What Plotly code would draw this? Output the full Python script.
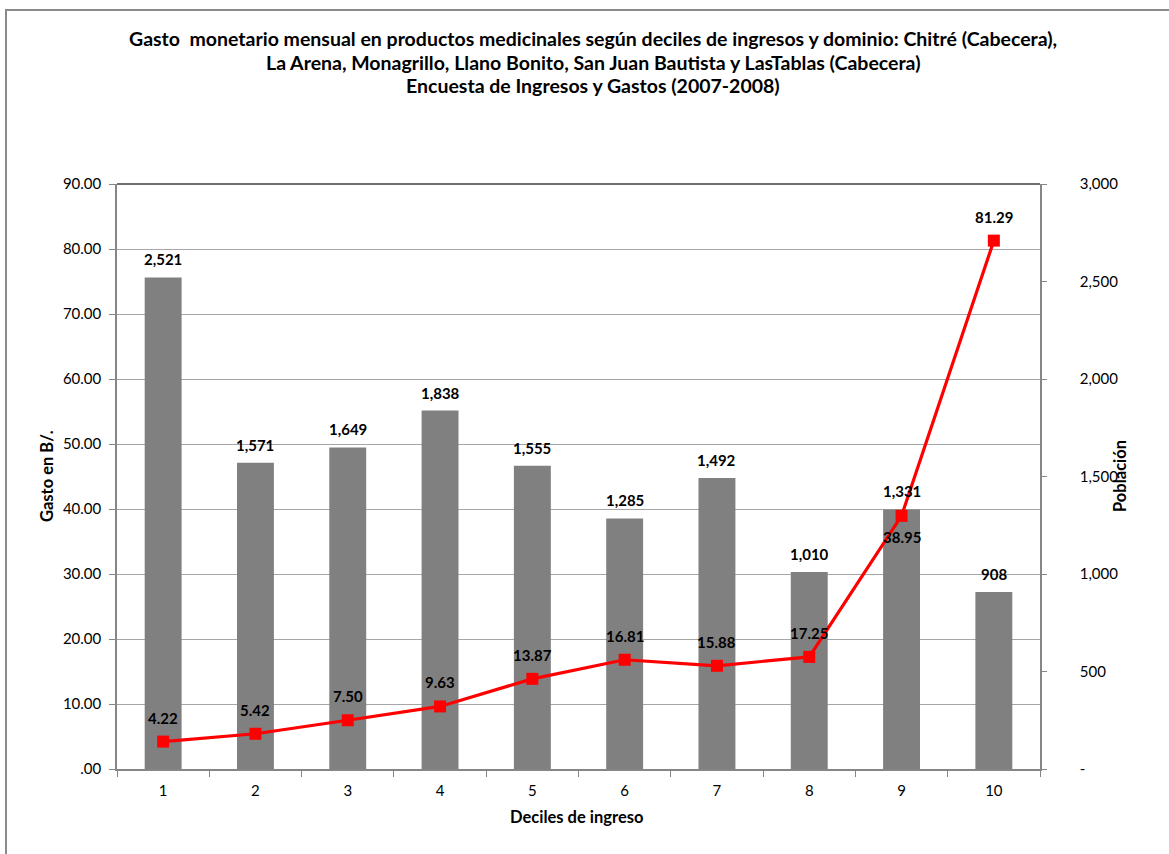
import plotly.graph_objects as go

# Data
deciles = ["1", "2", "3", "4", "5", "6", "7", "8", "9", "10"]
poblacion = [2521, 1571, 1649, 1838, 1555, 1285, 1492, 1010, 1331, 908]
gasto = [4.22, 5.42, 7.50, 9.63, 13.87, 16.81, 15.88, 17.25, 38.95, 81.29]

gasto_ticks = [0, 10, 20, 30, 40, 50, 60, 70, 80, 90]
gasto_ticktext = [".00", "10.00", "20.00", "30.00", "40.00", "50.00", "60.00", "70.00", "80.00", "90.00"]
pob_ticks = [0, 500, 1000, 1500, 2000, 2500, 3000]
pob_ticktext = ["-", "500", "1,000", "1,500", "2,000", "2,500", "3,000"]

title_lines = [
    "Gasto  monetario mensual en productos medicinales según deciles de ingresos y dominio: Chitré (Cabecera),",
    "La Arena, Monagrillo, Llano Bonito, San Juan Bautista y LasTablas (Cabecera)",
    "Encuesta de Ingresos y Gastos (2007-2008)",
]

FONT = "Lato"
W, H = 1169, 854
ML, MR, MT, MB = 117, 129, 184, 85
PW, PH = W - ML - MR, H - MT - MB


def px_x(px):
    return (px - ML) / PW


def px_y(py):
    return (H - MB - py) / PH


fig = go.Figure()

fig.add_trace(go.Bar(
    x=deciles, y=poblacion, yaxis="y", marker=dict(color="#808080", line=dict(width=0)),
    name="Población", hoverinfo="x+y",
))

fig.add_trace(go.Scatter(
    x=deciles, y=gasto, yaxis="y2", mode="lines+markers",
    line=dict(color="#ff0000", width=3.2),
    marker=dict(symbol="square", size=12, color="#ff0000"),
    name="Gasto",
))

annotations = []
# value labels above the bars (category axis: position = index)
for i, v in enumerate(poblacion):
    annotations.append(dict(
        x=i, y=v, xref="x", yref="y", text=f"<b>{v:,}</b>", showarrow=False,
        xanchor="center", yanchor="middle",
        yshift=18, font=dict(family=FONT, size=15, color="#000000"),
    ))
# value labels for the expenditure line
for i, v in enumerate(gasto):
    shift = -21 if deciles[i] == "9" else 24
    annotations.append(dict(
        x=i, y=v, xref="x", yref="y2", text=f"<b>{v:.2f}</b>", showarrow=False,
        xanchor="center", yanchor="middle",
        yshift=shift, font=dict(family=FONT, size=15, color="#000000"),
    ))

# title lines
for line, py in zip(title_lines, [38, 62, 86]):
    annotations.append(dict(
        x=px_x(593), y=px_y(py), xref="paper", yref="paper", text=f"<b>{line}</b>",
        showarrow=False, xanchor="center", yanchor="middle",
        font=dict(family=FONT, size=19.5, color="#000000"),
    ))

# axis titles
annotations.append(dict(
    x=px_x(47), y=px_y(476), xref="paper", yref="paper", text="<b>Gasto en B/.</b>",
    textangle=-90, showarrow=False, xanchor="center", yanchor="middle",
    font=dict(family=FONT, size=16.5, color="#000000"),
))
annotations.append(dict(
    x=px_x(1120), y=px_y(476), xref="paper", yref="paper", text="<b>Población</b>",
    textangle=-90, showarrow=False, xanchor="center", yanchor="middle",
    font=dict(family=FONT, size=16.5, color="#000000"),
))
annotations.append(dict(
    x=px_x(576), y=px_y(817), xref="paper", yref="paper", text="<b>Deciles de ingreso</b>",
    showarrow=False, xanchor="center", yanchor="middle",
    font=dict(family=FONT, size=16.5, color="#000000"),
))

shapes = [
    # chart frame
    dict(type="rect", xref="paper", yref="paper", x0=px_x(6), y0=px_y(H + 20), x1=px_x(W + 20), y1=px_y(10),
         line=dict(color="#8a8a8a", width=2), fillcolor="rgba(0,0,0,0)", layer="below"),
    # top edge of the plot area
    dict(type="line", xref="paper", yref="paper", x0=0, x1=1, y0=1, y1=1,
         line=dict(color="#404040", width=1.5)),
]

axis_gray = "#868686"

fig.update_layout(
    width=W, height=H,
    margin=dict(l=ML, r=MR, t=MT, b=MB, pad=0),
    paper_bgcolor="white", plot_bgcolor="white",
    showlegend=False,
    bargap=0.6,
    font=dict(family=FONT, size=15, color="#000000"),
    xaxis=dict(
        type="category", tickson="boundaries", ticks="outside", ticklen=6, tickcolor=axis_gray,
        showline=True, linecolor=axis_gray, linewidth=1.5, showgrid=False,
        tickfont=dict(family=FONT, size=15), range=[-0.5, 9.5], ticklabelstandoff=7,
    ),
    yaxis=dict(
        side="right", range=[0, 3000], tickvals=pob_ticks, ticktext=pob_ticktext,
        ticks="outside", ticklen=5, tickcolor=axis_gray, showgrid=False, zeroline=False,
        showline=True, linecolor=axis_gray, linewidth=1.5, ticklabelstandoff=30,
        tickfont=dict(family=FONT, size=15),
    ),
    yaxis2=dict(
        side="left", overlaying="y", range=[0, 90], tickvals=gasto_ticks, ticktext=gasto_ticktext,
        ticks="outside", ticklen=6, tickcolor=axis_gray, showgrid=True, gridcolor="#a6a6a6",
        gridwidth=1, zeroline=False, showline=True, linecolor=axis_gray, linewidth=1.5,
        ticklabelstandoff=5, tickfont=dict(family=FONT, size=15),
    ),
    annotations=annotations,
    shapes=shapes,
)

fig.write_html("out.html")
